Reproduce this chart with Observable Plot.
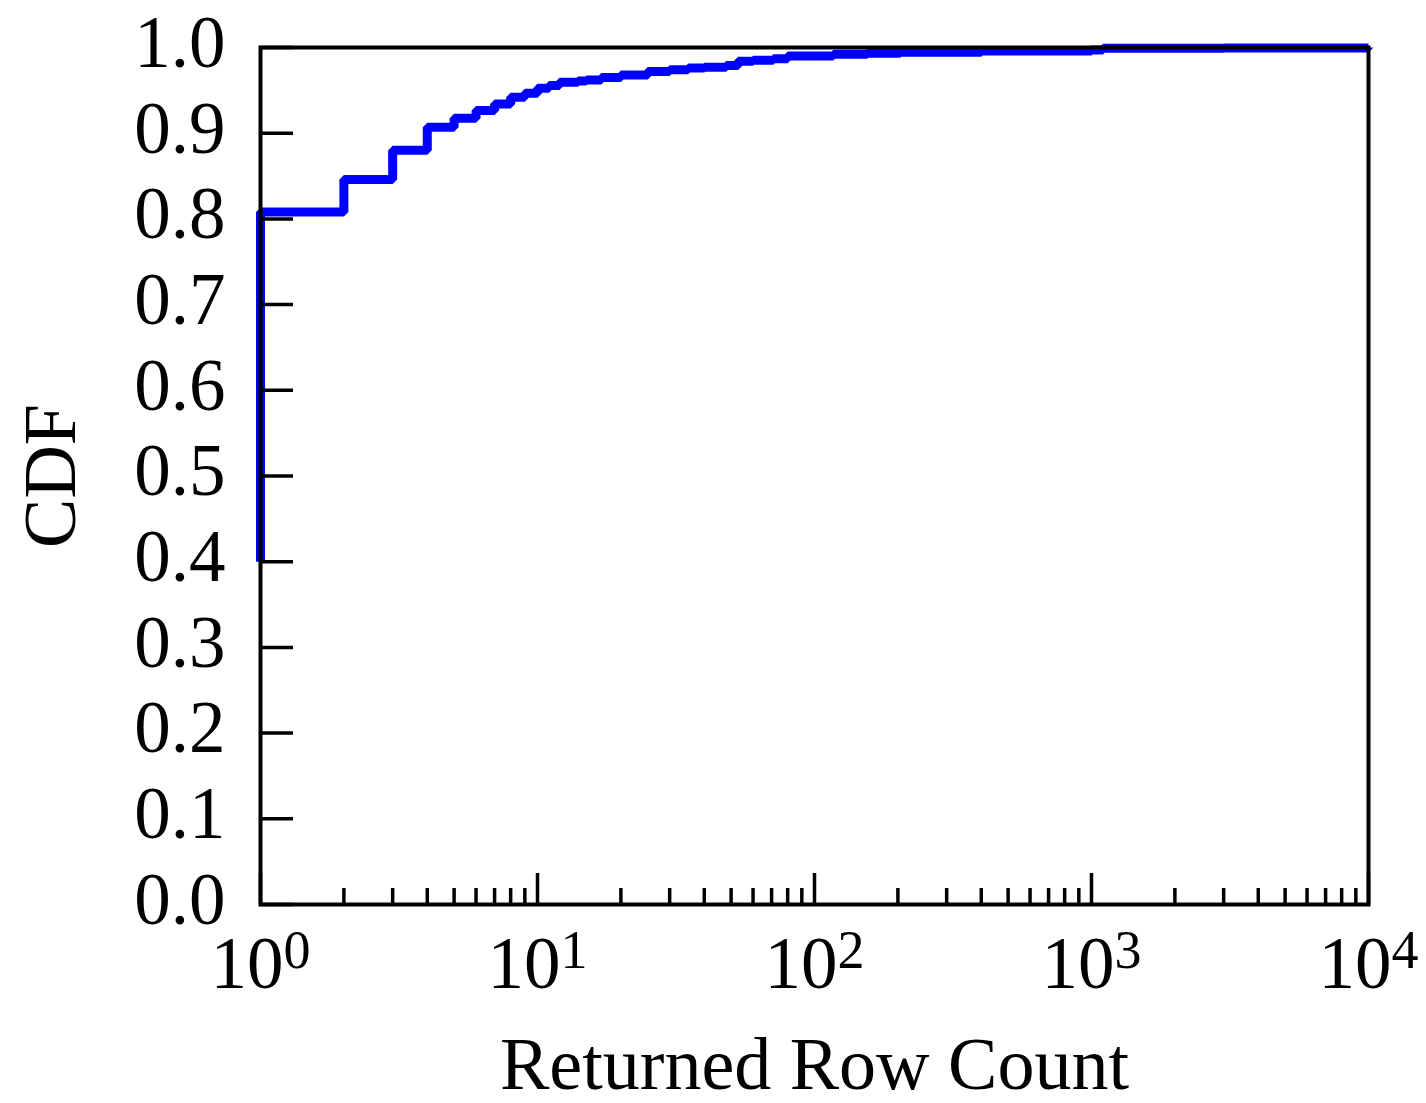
<!DOCTYPE html>
<html>
<head>
<meta charset="utf-8">
<script src="https://cdn.jsdelivr.net/npm/d3@7"></script>
<script src="https://cdn.jsdelivr.net/npm/@observablehq/plot@0.6"></script>
<style>
  html, body { margin: 0; padding: 0; background: #fff; }
  #chart svg { display: block; }
</style>
</head>
<body>
<div id="chart"></div>
<script>
// Data (returned row count vs CDF)
const rowCounts = [1, 1, 2, 3, 4, 5, 6, 7, 8, 9, 10, 11, 12, 14, 15, 17, 20, 25, 30, 35, 40, 48, 53, 60, 71, 80, 117, 155, 204, 400, 1000, 1100, 3000, 10000];
const cdfValues = [0.40, 0.808, 0.846, 0.880, 0.907, 0.9175, 0.9265, 0.934, 0.942, 0.9467, 0.9525, 0.9556, 0.9595, 0.961, 0.962, 0.965, 0.968, 0.972, 0.974, 0.976, 0.977, 0.979, 0.984, 0.985, 0.987, 0.990, 0.992, 0.9934, 0.9946, 0.996, 0.997, 0.999, 0.9995, 1.0];
const yTicks = [0, 0.1, 0.2, 0.3, 0.4, 0.5, 0.6, 0.7, 0.8, 0.9, 1.0];
const xMajorTicks = [1, 10, 100, 1000, 10000];
const xMinorTicks = [2,3,4,5,6,7,8,9,20,30,40,50,60,70,80,90,200,300,400,500,600,700,800,900,2000,3000,4000,5000,6000,7000,8000,9000];
const xLabel = "Returned Row Count";
const yLabel = "CDF";

const data = rowCounts.map((x, i) => ({x, y: cdfValues[i]}));

const W = 1426, H = 1103;
const mL = 260, mR = 58, mT = 47, mB = 199;
const innerW = W - mL - mR, innerH = H - mT - mB;
const font = "'Liberation Serif', 'Times New Roman', serif";

const chart = Plot.plot({
  width: W,
  height: H,
  marginLeft: mL,
  marginRight: mR,
  marginTop: mT,
  marginBottom: mB,
  style: {fontFamily: font, fontSize: "73px", background: "#fff", color: "#000"},
  x: {type: "log", domain: [1, 10000]},
  y: {domain: [0, 1]},
  marks: [
    Plot.line(data, {x: "x", y: "y", curve: "step-after", stroke: "#0000ff", strokeWidth: 9, strokeLinejoin: "miter", strokeLinecap: "butt"}),
    Plot.tickY(yTicks, {y: d => d, stroke: "#000", strokeWidth: 3.5, insetRight: innerW - 33}),
    Plot.tickX(xMajorTicks, {x: d => d, stroke: "#000", strokeWidth: 3.5, insetTop: innerH - 31}),
    Plot.tickX(xMinorTicks, {x: d => d, stroke: "#000", strokeWidth: 3.5, insetTop: innerH - 16}),
    Plot.frame({stroke: "#000", strokeWidth: 4}),
    Plot.axisY({ticks: yTicks, tickSize: 0, tickPadding: 35, tickFormat: d3.format(".1f"), label: null, fontSize: 73, dy: -4}),
    Plot.axisX({ticks: xMajorTicks, tickSize: 0, tickPadding: 32, tickFormat: d => "10^" + Math.round(Math.log10(d)), label: null, fontSize: 73}),
    Plot.text([xLabel], {text: d => d, frameAnchor: "bottom", textAnchor: "middle", lineAnchor: "bottom", dy: 184, fontSize: 74}),
    Plot.text([yLabel], {text: d => d, frameAnchor: "left", textAnchor: "middle", lineAnchor: "bottom", rotate: -90, dx: -186, fontSize: 74})
  ]
});

// Render exponents as superscripts
d3.select(chart).selectAll("g[aria-label='x-axis tick label'] text").each(function() {
  const t = d3.select(this);
  const s = t.text();
  if (s.includes("^")) {
    const [base, exp] = s.split("^");
    t.text(null);
    t.append("tspan").text(base);
    t.append("tspan").attr("dy", "-0.38em").attr("font-size", "54px").text(exp);
  }
});

document.getElementById("chart").appendChild(chart);
</script>
</body>
</html>
